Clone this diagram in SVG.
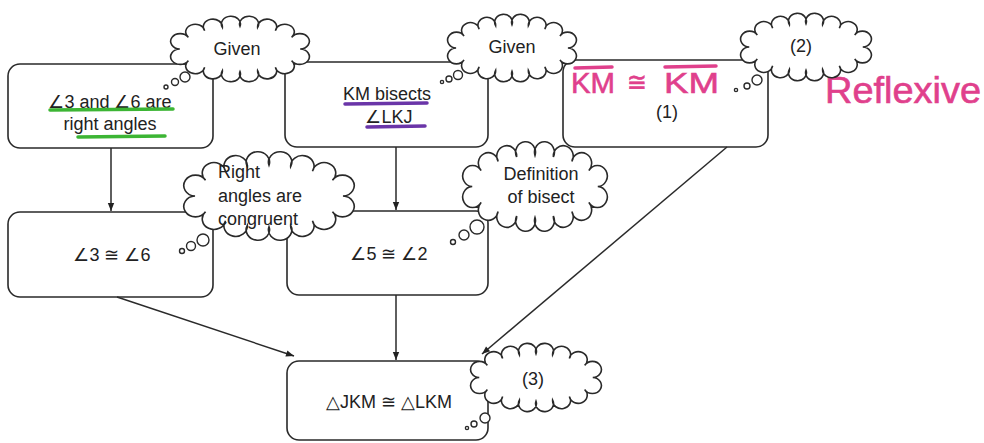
<svg xmlns="http://www.w3.org/2000/svg" xmlns:xlink="http://www.w3.org/1999/xlink" width="984" height="443" viewBox="0 0 984 443">
<style>
.box{fill:#fff;stroke:#2a2a2a;stroke-width:1.6}
.cl{fill:#fff;stroke:#2a2a2a;stroke-width:1.6;vector-effect:non-scaling-stroke}
.bub{fill:#fff;stroke:#2a2a2a;stroke-width:1.4}
.t{font-family:"Liberation Sans",Arial,sans-serif;font-size:18px;fill:#222}
.c{text-anchor:middle}
.con{fill:none;stroke:#2a2a2a;stroke-width:1.5}
.g{stroke:#3cb534;stroke-width:3.5;stroke-linecap:round;fill:none}
.p{stroke:#6a35a8;stroke-width:3.5;stroke-linecap:round;fill:none}
.pk{font-family:"Liberation Sans",Arial,sans-serif;fill:#e0408c;stroke:#e0408c;stroke-width:0.6}
.pkl{stroke:#e0408c;stroke-width:3.5;stroke-linecap:round;fill:none}
</style>
<defs>
<path id="cloud" class="cl" d="M93,30 A6.8,6.8 0 1 1 86.9,40.3 A6.8,6.8 0 1 1 75.3,46.2 A6.8,6.8 0 1 1 62.6,49.1 A6.8,6.8 0 1 1 50,50 A6.8,6.8 0 1 1 37.4,49.1 A6.8,6.8 0 1 1 24.7,46.2 A6.8,6.8 0 1 1 13.1,40.3 A6.8,6.8 0 1 1 7,30 A6.8,6.8 0 1 1 13.1,19.7 A6.8,6.8 0 1 1 24.7,13.8 A6.8,6.8 0 1 1 37.4,10.9 A6.8,6.8 0 1 1 50,10 A6.8,6.8 0 1 1 62.6,10.9 A6.8,6.8 0 1 1 75.3,13.8 A6.8,6.8 0 1 1 86.9,19.7 A6.8,6.8 0 1 1 93,30 Z"/>
<marker id="ah" viewBox="0 0 10 10" refX="10" refY="5" markerWidth="9" markerHeight="8" markerUnits="userSpaceOnUse" orient="auto"><path d="M0,1 L10,5 L0,9 z" fill="#222"/></marker>
</defs>

<g id="n1">
<rect class="box" x="8" y="64" width="205" height="84" rx="12"/>
<text class="t c" x="110" y="108">∠3 and  ∠6 are</text>
<text class="t c" x="110" y="130">right angles</text>
<path class="g" d="M50,110 L173,109"/>
<path class="g" d="M78,137 L165,136"/>
</g>
<g id="n2">
<rect class="box" x="285" y="62" width="203" height="85" rx="12"/>
<text class="t c" x="387" y="100">KM bisects</text>
<text class="t c" x="389" y="123">∠LKJ</text>
<path class="p" d="M345,104 L427,103"/>
<path class="p" d="M367,127 L425,126"/>
</g>
<g id="n3">
<rect class="box" x="563" y="60" width="205" height="87" rx="12"/>
<text class="t c" x="667" y="118">(1)</text>
<text class="pk" x="571" y="93" font-size="30" textLength="44" lengthAdjust="spacingAndGlyphs">KM</text>
<text class="pk" x="627" y="91" font-size="26" textLength="20" lengthAdjust="spacingAndGlyphs">≅</text>
<text class="pk" x="664" y="93" font-size="30" textLength="55" lengthAdjust="spacingAndGlyphs">KM</text>
<path class="pkl" d="M575,68 L612,67 M665,67 L716,66"/>
<text class="pk" x="825" y="103" font-size="36" textLength="156" lengthAdjust="spacingAndGlyphs">Reflexive</text>
</g>
<g id="n4">
<rect class="box" x="8" y="212" width="205" height="85" rx="12"/>
<text class="t c" x="112" y="261">∠3 ≅ ∠6</text>
</g>
<g id="n5">
<rect class="box" x="287" y="211" width="201" height="84" rx="12"/>
<text class="t c" x="389" y="260">∠5 ≅ ∠2</text>
</g>
<g id="n6">
<rect class="box" x="287" y="361" width="201" height="79" rx="12"/>
<text class="t c" x="389" y="408">△JKM ≅ △LKM</text>
</g>

<g id="c1">
<use xlink:href="#cloud" transform="translate(170,15) scale(1.4,1.133)"/>
<circle class="bub" cx="185" cy="77" r="5"/><circle class="bub" cx="175" cy="82" r="3.5"/><circle class="bub" cx="166" cy="87" r="2"/>
<text class="t c" x="237" y="55">Given</text>
</g>
<g id="c2">
<use xlink:href="#cloud" transform="translate(447,13) scale(1.3,1.167)"/>
<circle class="bub" cx="458" cy="75" r="4.5"/><circle class="bub" cx="449" cy="79" r="3"/><circle class="bub" cx="442" cy="82" r="1.6"/>
<text class="t c" x="512" y="53">Given</text>
</g>
<g id="c3">
<use xlink:href="#cloud" transform="translate(740,12) scale(1.32,1.167)"/>
<circle class="bub" cx="757" cy="80" r="5"/><circle class="bub" cx="747" cy="86" r="3"/><circle class="bub" cx="736" cy="90" r="1.6"/>
<text class="t c" x="801" y="52">(2)</text>
</g>
<g id="c4">
<use xlink:href="#cloud" transform="translate(183,150) scale(1.72,1.533)"/>
<circle class="bub" cx="203" cy="240" r="6"/><circle class="bub" cx="191" cy="246" r="4.5"/><circle class="bub" cx="182" cy="251" r="2.5"/>
<text class="t" x="218" y="178">Right</text>
<text class="t" x="218" y="202">angles are</text>
<text class="t" x="218" y="225">congruent</text>
</g>
<g id="c5">
<use xlink:href="#cloud" transform="translate(462,140) scale(1.46,1.55)"/>
<circle class="bub" cx="477" cy="227" r="7"/><circle class="bub" cx="464" cy="235" r="5"/><circle class="bub" cx="453" cy="242" r="2.5"/>
<text class="t c" x="541" y="180">Definition</text>
<text class="t c" x="541" y="203">of bisect</text>
</g>
<g id="c6">
<use xlink:href="#cloud" transform="translate(470,342) scale(1.32,1.183)"/>
<circle class="bub" cx="485" cy="418" r="5"/><circle class="bub" cx="474" cy="424" r="3"/><circle class="bub" cx="467" cy="428" r="1.6"/>
<text class="t c" x="533" y="385">(3)</text>
</g>

<g id="connectors">
<line class="con" x1="111" y1="148" x2="111" y2="211" marker-end="url(#ah)"/>
<line class="con" x1="396" y1="147" x2="396" y2="210" marker-end="url(#ah)"/>
<line class="con" x1="117" y1="297" x2="294" y2="356" marker-end="url(#ah)"/>
<line class="con" x1="396" y1="295" x2="396" y2="360" marker-end="url(#ah)"/>
<line class="con" x1="727" y1="147" x2="482" y2="354" marker-end="url(#ah)"/>
</g>
</svg>
